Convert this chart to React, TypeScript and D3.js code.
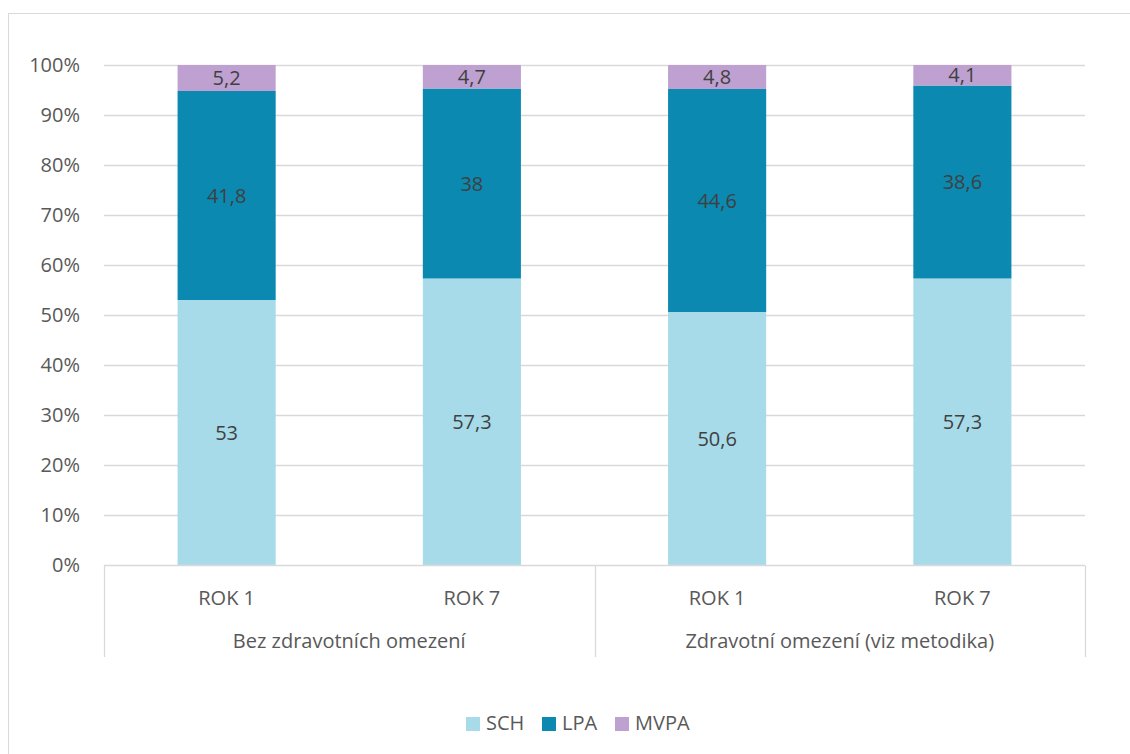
import React, { useEffect, useRef } from 'react';
import * as d3 from 'd3';

const groups = ['Bez zdravotních omezení', 'Zdravotní omezení (viz metodika)'];
const years = ['ROK 1', 'ROK 7'];
const seriesNames = ['SCH', 'LPA', 'MVPA'];
const colors = ['#a8dbe9', '#0b89b1', '#bea1d1'];
const sch = [53, 57.3, 50.6, 57.3];
const lpa = [41.8, 38, 44.6, 38.6];
const mvpa = [5.2, 4.7, 4.8, 4.1];
const yTicks = [0, 10, 20, 30, 40, 50, 60, 70, 80, 90, 100];

const App = () => {
  const svgRef = useRef<SVGSVGElement>(null);

  useEffect(() => {
    const width = 1130;
    const height = 754;
    const margin = { left: 104, right: 45, top: 65, bottom: 189 };
    const font = "'Open Sans', sans-serif";
    const fs = 20;

    const svg = d3.select(svgRef.current);
    svg.selectAll('*').remove();

    // chart frame
    svg.append('rect')
      .attr('x', 8.5).attr('y', 13.5)
      .attr('width', width).attr('height', height)
      .attr('fill', '#fff').attr('stroke', '#d9d9d9');

    const cats = groups.flatMap((g, gi) => years.map((y, yi) => ({ g, gi, y, i: gi * 2 + yi })));
    const rows = cats.map(c => ({ key: c.i, SCH: sch[c.i], LPA: lpa[c.i], MVPA: mvpa[c.i] }));

    const x = d3.scaleBand<number>()
      .domain(cats.map(c => c.i))
      .range([margin.left, width - margin.right])
      .paddingInner(0.6).paddingOuter(0.3);

    const y = d3.scaleLinear().domain([0, 100]).range([height - margin.bottom, margin.top]);

    // gridlines
    svg.append('g').selectAll('line')
      .data(yTicks.slice(1))
      .enter().append('line')
      .attr('x1', margin.left).attr('x2', width - margin.right)
      .attr('y1', d => Math.round(y(d)) + 0.5).attr('y2', d => Math.round(y(d)) + 0.5)
      .attr('stroke', '#d9d9d9').attr('stroke-width', 1.3);

    // y labels
    svg.append('g').selectAll('text')
      .data(yTicks)
      .enter().append('text')
      .attr('x', 80).attr('y', d => y(d))
      .attr('dy', '0.35em').attr('text-anchor', 'end')
      .attr('font-family', font).attr('font-size', fs).attr('fill', '#595959')
      .text(d => `${d}%`);

    const stack = d3.stack<any>().keys(seriesNames);
    const layers = stack(rows);

    layers.forEach((layer, li) => {
      const g = svg.append('g');
      g.selectAll('rect')
        .data(layer)
        .enter().append('rect')
        .attr('x', (d: any) => x(d.data.key)!)
        .attr('width', x.bandwidth())
        .attr('y', d => y(d[1]))
        .attr('height', d => y(d[0]) - y(d[1]))
        .attr('fill', colors[li]);
      g.selectAll('text')
        .data(layer)
        .enter().append('text')
        .attr('x', (d: any) => x(d.data.key)! + x.bandwidth() / 2)
        .attr('y', d => (y(d[0]) + y(d[1])) / 2)
        .attr('dy', '0.35em').attr('text-anchor', 'middle')
        .attr('font-family', font).attr('font-size', fs).attr('fill', '#404040')
        .text(d => String(d[1] - d[0] > 0 ? +(d[1] - d[0]).toFixed(1) : '').replace('.', ','));
    });

    // category axis
    const axisY = Math.round(y(0)) + 0.5;
    const left = margin.left;
    const right = width - margin.right;
    const mid = (left + right) / 2;
    const axis = svg.append('g').attr('stroke', '#d9d9d9').attr('stroke-width', 1.3);
    axis.append('line').attr('x1', left).attr('x2', right).attr('y1', axisY).attr('y2', axisY);
    [left, mid, right].forEach(xx => {
      axis.append('line')
        .attr('x1', Math.round(xx) + 0.5).attr('x2', Math.round(xx) + 0.5)
        .attr('y1', axisY).attr('y2', 657);
    });

    svg.append('g').selectAll('text')
      .data(cats)
      .enter().append('text')
      .attr('x', d => x(d.i)! + x.bandwidth() / 2)
      .attr('y', 598).attr('dy', '0.35em').attr('text-anchor', 'middle')
      .attr('font-family', font).attr('font-size', fs).attr('fill', '#595959')
      .text(d => d.y);

    const gx = d3.scaleBand<string>().domain(groups).range([left, right]);
    svg.append('g').selectAll('text')
      .data(groups)
      .enter().append('text')
      .attr('x', d => gx(d)! + gx.bandwidth() / 2)
      .attr('y', 641).attr('dy', '0.35em').attr('text-anchor', 'middle')
      .attr('font-family', font).attr('font-size', fs).attr('fill', '#595959')
      .text(d => d);

    // legend
    const legendX = [466, 542, 615];
    const legend = svg.append('g');
    seriesNames.forEach((name, i) => {
      legend.append('rect')
        .attr('x', legendX[i]).attr('y', 717).attr('width', 14).attr('height', 14)
        .attr('fill', colors[i]);
      legend.append('text')
        .attr('x', legendX[i] + 20).attr('y', 723).attr('dy', '0.35em')
        .attr('font-family', font).attr('font-size', fs).attr('fill', '#595959')
        .text(name);
    });
  }, []);

  return (
    <svg ref={svgRef} width={1130} height={754}
      style={{ position: 'absolute', left: 0, top: 0, display: 'block' }} />
  );
};

export default App;
